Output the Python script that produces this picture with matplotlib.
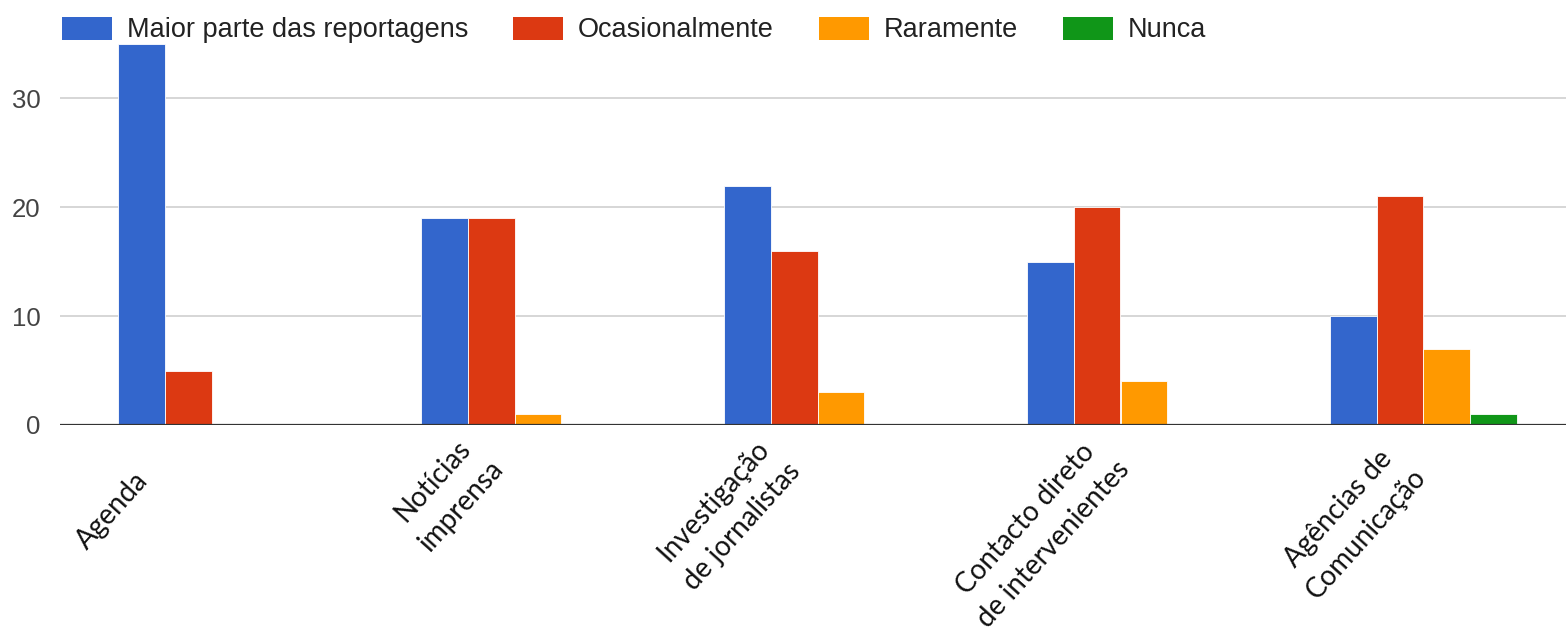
import numpy as np
import matplotlib
matplotlib.use("Agg")
import matplotlib.pyplot as plt
import matplotlib.transforms as mtransforms
from matplotlib.patches import Patch

# --- data -------------------------------------------------------------
categories = [
    "Agenda",
    "Notícias\nimprensa",
    "Investigação\nde jornalistas",
    "Contacto direto\nde intervenientes",
    "Agências de\nComunicação",
]
series_names = ["Maior parte das reportagens", "Ocasionalmente", "Raramente", "Nunca"]
maior_parte = [35, 19, 22, 15, 10]
ocasionalmente = [5, 19, 16, 20, 21]
raramente = [0, 1, 3, 4, 7]
nunca = [0, 0, 0, 0, 1]
y_ticks = [0, 10, 20, 30]

# --- style / layout ---------------------------------------------------
colors = ["#3366CC", "#DC3912", "#FF9900", "#109618"]
W, H, DPI = 1566, 629, 100
# per-label nudges (pixels, right / down) for the rotated category names
label_nudge = [(-68, 26), (-30, 2), (-36, 4), (-10, 2), (-16, 10)]

fig = plt.figure(figsize=(W / DPI, H / DPI), dpi=DPI)
ax = fig.add_axes([60 / W, 1 - 425 / H, (W - 60) / W, (425 - 44) / H])

series = [maior_parte, ocasionalmente, raramente, nunca]
x = np.arange(len(categories))
bw = 0.155
for i, (vals, c) in enumerate(zip(series, colors)):
    ax.bar(x + (i - 1.5) * bw, vals, width=bw, color=c,
           edgecolor="white", linewidth=0.6, zorder=2)

ax.set_xlim(-0.5, -0.5 + (W - 60) / 303)
ax.set_ylim(0, 35)

# grid and baseline
ax.set_yticks(y_ticks)
ax.yaxis.grid(True, color="#cccccc", linewidth=1.1, zorder=0)
ax.set_axisbelow(True)
ax.axhline(0, color="#333333", linewidth=1.6, zorder=4)
for s in ax.spines.values():
    s.set_visible(False)

ax.tick_params(axis="y", length=0, pad=14, labelsize=18.5, labelcolor="#444444")
for t in ax.get_yticklabels():
    t.set_fontfamily(["Liberation Sans", "DejaVu Sans"])

ax.set_xticks(x)
ax.set_xticklabels(categories, rotation=48, rotation_mode="anchor",
                   ha="right", va="center", multialignment="center",
                   fontsize=20, family=["Lato", "DejaVu Sans"],
                   color="#111111", linespacing=1.55)
ax.tick_params(axis="x", length=0, pad=18)
for t, (dx, dy) in zip(ax.get_xticklabels(), label_nudge):
    t.set_transform(t.get_transform() +
                    mtransforms.ScaledTranslation(dx / DPI, -dy / DPI, fig.dpi_scale_trans))

# legend across the top
handles = [Patch(facecolor=c, edgecolor="none") for c in colors]
fig.legend(handles, series_names, loc="center left",
           bbox_to_anchor=(62 / W, 1 - 30 / H), ncol=4, frameon=False,
           borderpad=0, borderaxespad=0, handlelength=1.85, handleheight=0.95,
           handletextpad=0.55, columnspacing=1.65,
           prop={"family": ["Liberation Sans", "DejaVu Sans"], "size": 19.5},
           labelcolor="#222222")

fig.savefig("out.png", dpi=DPI)
